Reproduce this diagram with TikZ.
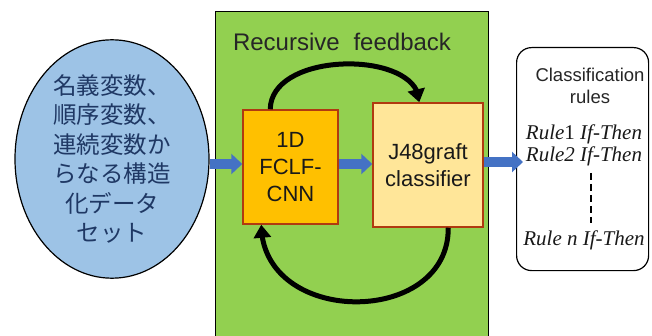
\documentclass[tikz,border=0pt]{standalone}
\usepackage{fontspec}
\setmainfont{Liberation Sans}
\newfontfamily\cjk{Noto Sans CJK JP}
\newfontfamily\tnr{Liberation Serif}
\usetikzlibrary{arrows.meta,shapes.geometric,calc,bending}
\definecolor{fbgreen}{HTML}{92D050}
\definecolor{cnnorange}{HTML}{FFC000}
\definecolor{jlight}{HTML}{FFE699}
\definecolor{boxred}{HTML}{B03A10}
\definecolor{ellblue}{HTML}{9DC3E6}
\definecolor{arrblue}{HTML}{4472C4}
\definecolor{navytext}{HTML}{1F3864}
\tikzset{
  procbox/.style={rectangle, draw=boxred, line width=1.5pt, align=center, inner sep=0pt, text=black!90,
    font=\fontsize{22}{27}\selectfont},
  barrow/.style={draw=arrblue, line width=10pt, -{Triangle[length=11pt,width=20pt]}},
  fbarrow/.style={draw=black, line width=5pt, -{Triangle[length=13pt,width=17pt]}},
  ruletext/.style={font=\tnr\itshape\fontsize{21}{23}\selectfont, inner sep=0pt, text=black!90}
}
\begin{document}
\begin{tikzpicture}[x=1pt,y=-1pt]
\useasboundingbox (0,0) rectangle (652,336);
\fill[white] (0,0) rectangle (652,336);
% feedback panel
\node[draw=black, line width=1.2pt, fill=fbgreen, minimum width=273pt, minimum height=340pt,
  anchor=north west, inner sep=0pt] (fb) at (215,11) {};
\node[font=\fontsize{24}{28}\selectfont, text=black!85, inner sep=0pt] (fbt) at (342,42) {Recursive\hspace{0.3em} feedback};
% data set ellipse
\node[ellipse, draw=black, line width=1.2pt, fill=ellblue, minimum width=194pt, minimum height=212pt,
  inner sep=0pt, align=center, text=navytext, font=\cjk\fontsize{23.5}{29.4}\selectfont] (ds) at (112,159)
  {名義変数、\\順序変数、\\連続変数か\\らなる構造\\化データ\\セット};
% process boxes
\node[procbox, fill=cnnorange, minimum width=95pt, minimum height=114pt] (cnn) at (290.5,167) {1D\\FCLF-\\CNN};
\node[procbox, fill=jlight, minimum width=110pt, minimum height=124pt] (jb) at (428,165) {J48graft\\classifier};
% rules box
\node[draw=black, line width=1.2pt, rounded corners=15pt, minimum width=132pt, minimum height=223pt,
  anchor=north west, inner sep=0pt] (rules) at (516,47) {};
\node[font=\fontsize{18.5}{22}\selectfont, align=center, inner sep=0pt, text=black!85] (ct) at (590,86) {Classification\\rules};
\node[ruletext] (r1) at (584,134) {Rule{\upshape 1} If-Then};
\node[ruletext] (r2) at (584,156) {Rule2 If-Then};
\node[ruletext] (rn) at (584,240) {Rule n If-Then};
\coordinate (dtop) at (591,173);
\coordinate (dbot) at (591,223);
\draw[line width=2pt, dash pattern=on 7pt off 4pt] (dtop) -- (dbot);
% blue arrows
\draw[barrow] (ds.east |- 0,164) -- (cnn.west |- 0,164);
\draw[barrow] (cnn.east |- 0,164) -- (jb.west |- 0,164);
\draw[barrow] (jb.east |- 0,162) -- ($(rules.west |- 0,162)+(7,0)$);
% feedback arrows
\draw[fbarrow] ([xshift=28pt]cnn.north west) .. controls (271,50) and (420,50) .. ([xshift=47pt]jb.north west);
\draw[fbarrow] ([xshift=76pt]jb.south west) .. controls (449,327) and (262,327) .. ([xshift=19pt]cnn.south west);
\end{tikzpicture}
\end{document}
